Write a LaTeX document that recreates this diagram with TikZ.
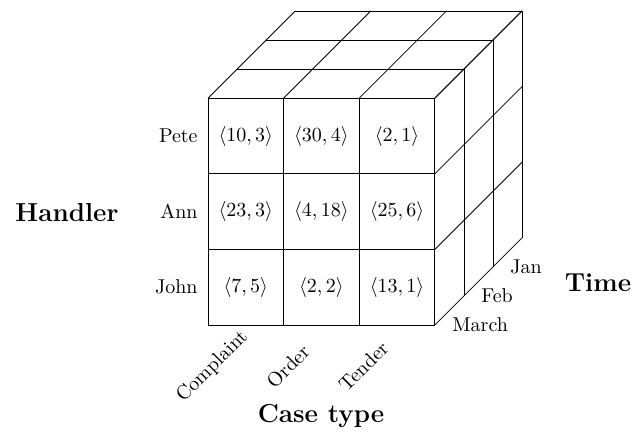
\documentclass[tikz,border=0pt]{standalone}
\begin{document}
% Data cube: handler x case type x time, drawn on a 1px = 0.5pt grid (y downwards)
\begin{tikzpicture}[x=0.5pt, y=-0.5pt, line width=0.4pt,
  val/.style={font=\fontsize{10}{12}\selectfont},
  rowlbl/.style={font=\fontsize{10}{12}\selectfont, anchor=east, inner sep=0pt},
  collbl/.style={font=\fontsize{10}{12}\selectfont, rotate=45},
  monthlbl/.style={font=\fontsize{10}{12}\selectfont, anchor=west, inner sep=0pt},
  axislbl/.style={font=\fontsize{13}{15}\selectfont\bfseries}]
\useasboundingbox (0,0) rectangle (637,441);

% front face
\foreach \i in {0,...,3} {
  \draw (208+75.6*\i, 325) -- (208+75.6*\i, 98.2);
  \draw (208, 325-75.6*\i) -- (434.8, 325-75.6*\i);
}
% top face
\foreach \k in {1,2,3}
  \draw (208+29.1*\k, 98.2-29.1*\k) -- (434.8+29.1*\k, 98.2-29.1*\k);
\foreach \i in {0,...,3}
  \draw (208+75.6*\i, 98.2) -- ++(87.3,-87.3);
% right face
\foreach \k in {1,2,3}
  \draw (434.8+29.1*\k, 325-29.1*\k) -- (434.8+29.1*\k, 98.2-29.1*\k);
\foreach \j in {0,...,3}
  \draw (434.8, 325-75.6*\j) -- ++(87.3,-87.3);

% cell values
\node[val] (v11) at (245.8,136.0) {$\langle 10, 3\rangle$};
\node[val] (v12) at (321.4,136.0) {$\langle 30, 4\rangle$};
\node[val] (v13) at (397.0,136.0) {$\langle 2, 1\rangle$};
\node[val] (v21) at (245.8,211.6) {$\langle 23, 3\rangle$};
\node[val] (v22) at (321.4,211.6) {$\langle 4, 18\rangle$};
\node[val] (v23) at (397.0,211.6) {$\langle 25, 6\rangle$};
\node[val] (v31) at (245.8,287.2) {$\langle 7, 5\rangle$};
\node[val] (v32) at (321.4,287.2) {$\langle 2, 2\rangle$};
\node[val] (v33) at (397.0,287.2) {$\langle 13, 1\rangle$};

% handlers
\node[rowlbl] (pete) at (198,136.0) {Pete};
\node[rowlbl] (ann)  at (198,211.6) {Ann};
\node[rowlbl] (john) at (198,287.2) {John};

% case types
\node[collbl] (complaint) at (212.5,366.5) {Complaint};
\node[collbl] (order)     at (288.0,366.5) {Order};
\node[collbl] (tender)    at (363.5,366.5) {Tender};

% months
\node[monthlbl] (march) at (452,325) {March};
\node[monthlbl] (feb)   at (481,296) {Feb};
\node[monthlbl] (jan)   at (510,267) {Jan};

% dimension names
\node[axislbl] (handler)  at (67,212.5) {Handler};
\node[axislbl] (casetype) at (321,416) {Case type};
\node[axislbl] (time)     at (598,282.5) {Time};
\end{tikzpicture}
\end{document}
